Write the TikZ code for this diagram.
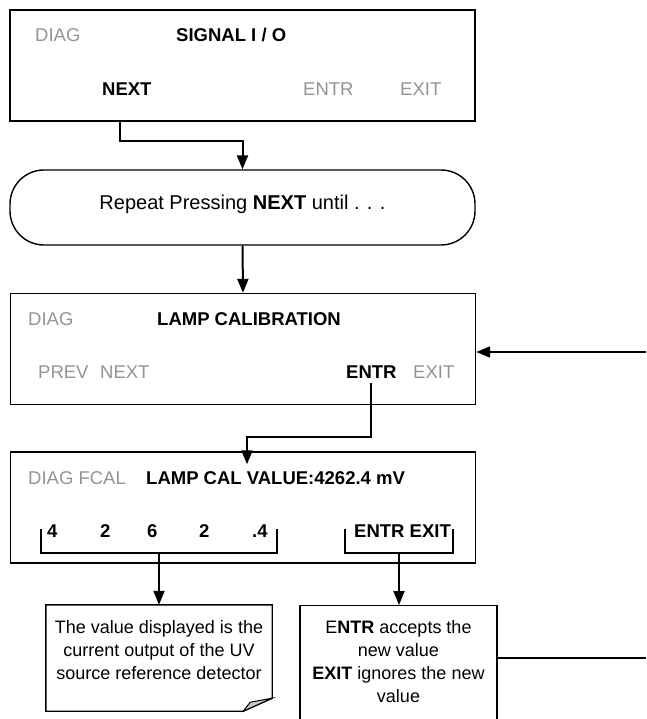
\documentclass[tikz,border=0pt]{standalone}
\usepackage{fontspec}
\setmainfont{Liberation Sans}
\usepackage{tikz}
\usepackage{xcolor}
\usetikzlibrary{arrows.meta}
\definecolor{softkey}{gray}{0.58}

\begin{document}
\begin{tikzpicture}[x=1pt,y=-1pt,
    font=\fontsize{18.5}{22}\selectfont,
    screen/.style={draw, line width=1.4pt, minimum width=465pt, minimum height=111pt, inner sep=0pt},
    key/.style={anchor=base west, inner sep=0pt, text=softkey},
    hot/.style={anchor=base west, inner sep=0pt, font=\fontsize{18.5}{22}\selectfont\bfseries},
    notetext/.style={align=center, inner sep=0pt, font=\fontsize{18}{23}\selectfont},
    flow/.style={line width=2pt, -{Triangle[length=14pt,width=11pt]}},
    wire/.style={line width=2pt}]
\useasboundingbox (0,0) rectangle (646,719);
\clip (0,0) rectangle (646,719);

\node[screen] (sigbox) at (242.5,65.5) {};
\node[key] (diag1) at (35,41.5) {DIAG};
\node[hot] (sigtitle) at (176,41.5) {SIGNAL I / O};
\node[hot] (next1) at (102,96) {NEXT};
\node[key] (entr1) at (303,96) {ENTR};
\node[key] (exit1) at (400,96) {EXIT};

\node[draw, line width=1.4pt, rounded corners=34pt, minimum width=465pt, minimum height=75pt,
    font=\fontsize{20}{24}\selectfont, text height=14pt, text depth=9pt] (repeat) at (242.5,207.5) {Repeat Pressing \textbf{NEXT} until . . .};

\node[screen] (lampbox) at (243,349) {};
\node[key] (diag2) at (28,325) {DIAG};
\node[hot] (lamptitle) at (157,325) {LAMP CALIBRATION};
\node[key] (prev2) at (38,378) {PREV};
\node[key] (next2) at (100,378) {NEXT};
\node[hot] (entr2) at (346,378) {ENTR};
\node[key] (exit2) at (413,378) {EXIT};

\node[screen] (valbox) at (243,507.5) {};
\node[key] (diag3) at (28,484) {DIAG FCAL};
\node[hot] (valtitle) at (146,484) {LAMP CAL VALUE:4262.4 mV};
\foreach \d/\x [count=\i] in {4/47,2/100,6/147,2/199,.4/252}
    \node[hot] (dig\i) at (\x,537) {\d};
\node[hot] (keys3) at (354,537) {ENTR EXIT};
\draw[line width=1.4pt] (41,529) |- (277,553) -- (277,529);
\draw[line width=1.4pt] (345,529) |- (453,553) -- (453,529);
\coordinate (digbr) at (159,553);
\coordinate (keybr) at (399,553);

\node[minimum width=226pt, minimum height=106pt, inner sep=0pt] (vnote) at (159,658) {};
\node[notetext] (vtext) at ([yshift=8pt]vnote.center) {The value displayed is the\\current output of the UV\\source reference detector};
\draw[line width=1.4pt] (vnote.south west) -- (vnote.north west) -- (vnote.north east) -- ([yshift=13pt]vnote.south east) -- ([xshift=-29pt]vnote.south east) -- cycle;
\filldraw[fill=gray!45, line width=1pt] ([yshift=13pt]vnote.south east) -- ([xshift=-22pt,yshift=9pt]vnote.south east) -- ([xshift=-29pt]vnote.south east) -- cycle;

\node[draw, line width=1.4pt, minimum width=197pt, minimum height=150pt, anchor=north] (exitnote) at (398.5,605) {};
\node[notetext] (exittext) at (398.5,662) {E\textbf{NTR} accepts the\\new value\\\textbf{EXIT} ignores the new\\value};

\coordinate (loopin) at (646,352);
\coordinate (loopout) at (646,658);

\draw[flow] ([xshift=-7pt]next1.south |- sigbox.south) -- ++(0,19) -| (repeat.north);
\draw[flow] (repeat.south) -- (lampbox.north);
\draw[flow] (loopin) -- (loopin -| lampbox.east);
\draw[flow] ([yshift=-5pt]entr2.south) -- ++(0,54) -| ([xshift=4pt,yshift=-13pt]valbox.north);
\draw[flow] (digbr) -- (digbr |- vnote.north);
\draw[flow] (keybr) -- (keybr |- exitnote.north);
\draw[wire] (exitnote.east |- loopout) -- (loopout);
\end{tikzpicture}
\end{document}
